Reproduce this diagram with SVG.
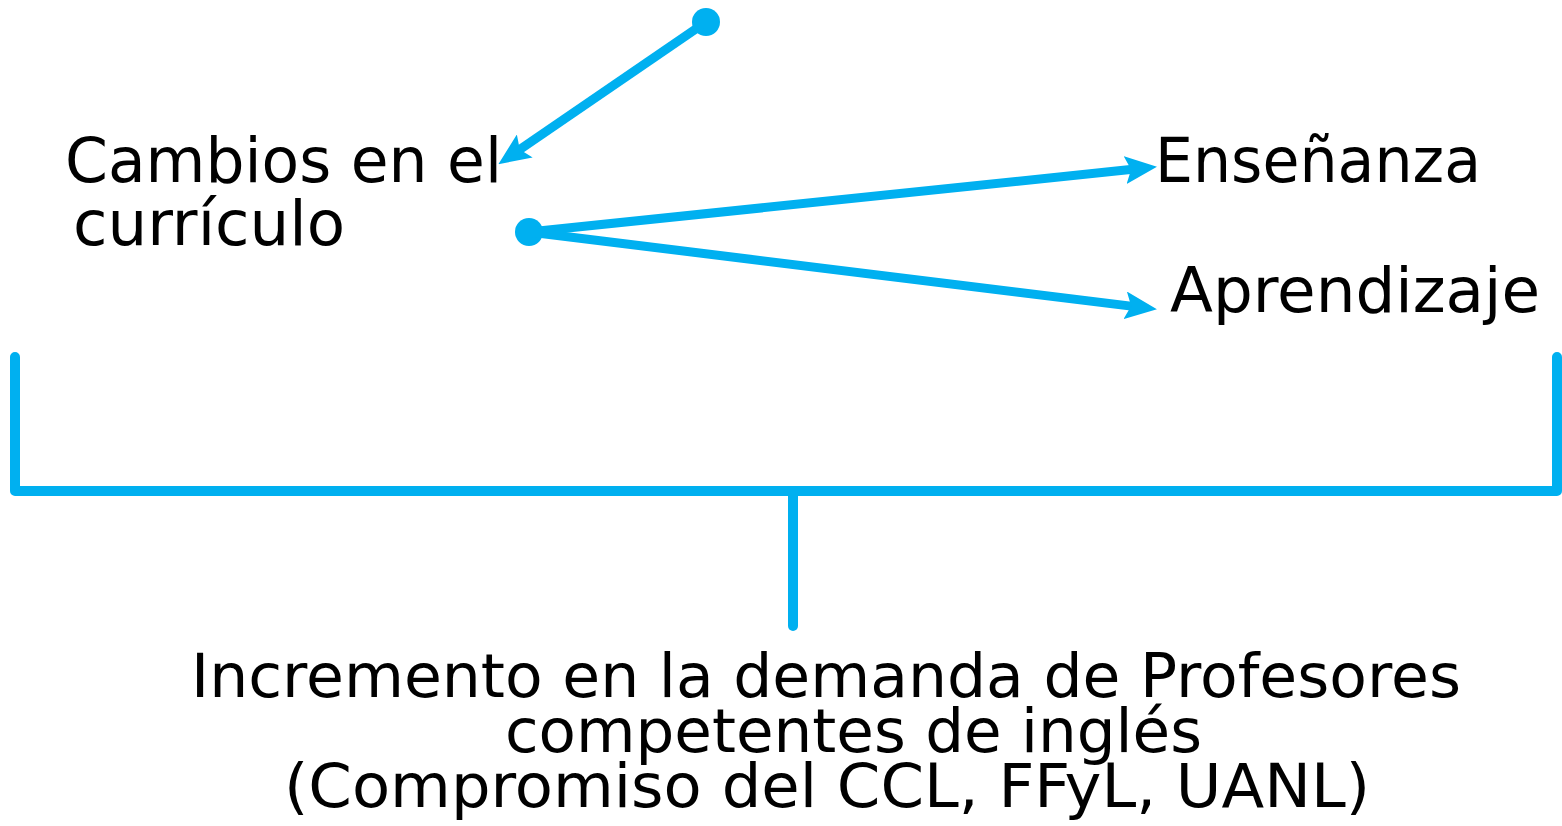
<svg xmlns="http://www.w3.org/2000/svg" width="1562" height="826" viewBox="0 0 1562 826">
<style>
.t{font-family:"DejaVu Sans","Liberation Sans",sans-serif;fill:#000}
.top{font-size:62px}
.bot{font-size:60px}
.c{fill:none;stroke:#00B0F0;stroke-width:9}
.br{fill:none;stroke:#00B0F0;stroke-width:10;stroke-linejoin:round;stroke-linecap:round}
.dot{fill:#00B0F0}
</style>
<defs>
<marker id="ah" markerUnits="userSpaceOnUse" viewBox="0 0 32 28" refX="10" refY="14" markerWidth="32" markerHeight="28" orient="auto">
<path d="M0,0 L32,14 L0,28 L6,14 z" fill="#00B0F0"/>
</marker>
</defs>
<g id="connectors">
<circle class="dot" cx="706" cy="22" r="14"/>
<path class="c" d="M706,22 L516.5,151.7" marker-end="url(#ah)"/>
<circle class="dot" cx="529" cy="232" r="14"/>
<path class="c" d="M529,232 L1135.1,169.1" marker-end="url(#ah)"/>
<path class="c" d="M529,232 L1135.1,306.6" marker-end="url(#ah)"/>
<path class="br" d="M15,357 L15,491 L1557,491 L1557,357"/>
<path class="br" d="M793,491 L793,626"/>
</g>
<g id="node-cambios">
<text class="t top" x="65" y="182" textLength="437" lengthAdjust="spacingAndGlyphs">Cambios en el</text>
<text class="t top" x="73" y="245" textLength="272" lengthAdjust="spacingAndGlyphs">currículo</text>
</g>
<g id="node-ensenanza">
<text class="t top" x="1155" y="182" textLength="326" lengthAdjust="spacingAndGlyphs">Enseñanza</text>
</g>
<g id="node-aprendizaje">
<text class="t top" x="1170" y="312" textLength="370" lengthAdjust="spacingAndGlyphs">Aprendizaje</text>
</g>
<g id="node-incremento">
<text class="t bot" x="191" y="697" textLength="1270" lengthAdjust="spacingAndGlyphs">Incremento en la demanda de Profesores</text>
<text class="t bot" x="505" y="752" textLength="697" lengthAdjust="spacingAndGlyphs">competentes de inglés</text>
<text class="t bot" x="284" y="807" textLength="1086" lengthAdjust="spacingAndGlyphs">(Compromiso del CCL, FFyL, UANL)</text>
</g>
</svg>
